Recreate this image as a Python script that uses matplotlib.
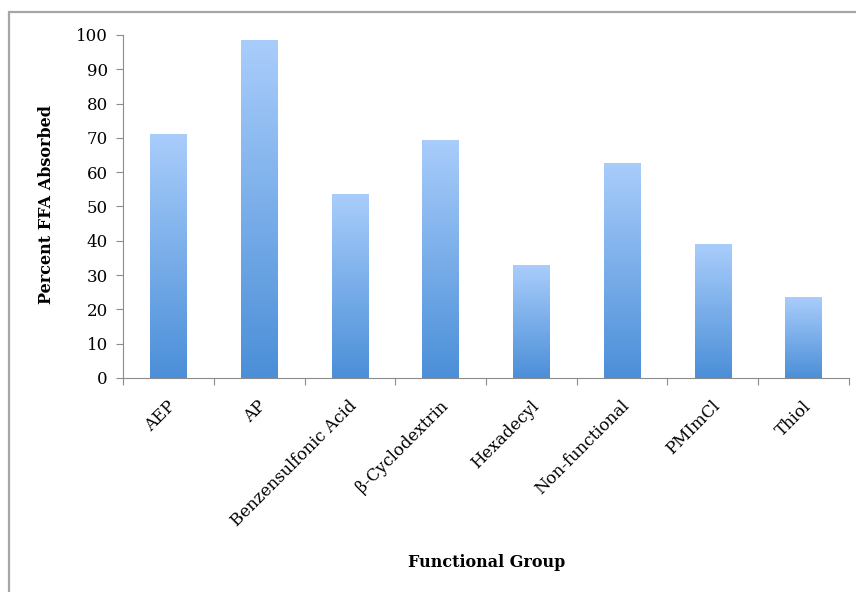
import numpy as np
import matplotlib
matplotlib.use("Agg")
import matplotlib.pyplot as plt
from matplotlib.colors import LinearSegmentedColormap
from matplotlib.patches import Rectangle

groups = ["AEP", "AP", "Benzensulfonic Acid", "\u03b2-Cyclodextrin", "Hexadecyl",
          "Non-functional", "PMImCl", "Thiol"]
absorbed = [71.0, 98.5, 53.5, 69.5, 32.8, 62.7, 39.0, 23.5]
y_ticks = list(range(0, 101, 10))

plt.rcParams["font.family"] = ["DejaVu Serif"]

fig = plt.figure(figsize=(8.56, 5.92), dpi=100)
ax = fig.add_axes([0.1437, 0.3615, 0.8481, 0.5794])

# light top, darker bottom, like the office-style gradient fill
cmap = LinearSegmentedColormap.from_list("barfill", ["#4b8fd8", "#a9cdfb"])
grad = np.linspace(0, 1, 256).reshape(-1, 1)

x = np.arange(len(groups))
bars = ax.bar(x, absorbed, width=0.4, color="none", edgecolor="none", zorder=2)
for rect in bars:
    x0, y0 = rect.get_x(), rect.get_y()
    w, h = rect.get_width(), rect.get_height()
    im = ax.imshow(grad, cmap=cmap, origin="lower", aspect="auto",
                   extent=(x0, x0 + w, y0, y0 + h), zorder=2)
    im.set_clip_path(rect)

ax.set_xlim(-0.5, len(groups) - 0.5)
ax.set_ylim(0, 100)
ax.set_yticks(y_ticks)
ax.tick_params(axis="y", labelsize=12, length=5, color="#8c8c8c", pad=6)

# category boundaries get the tick marks, names sit under the bars
ax.set_xticks(np.arange(len(groups) + 1) - 0.5)
ax.set_xticklabels([])
ax.tick_params(axis="x", length=5, color="#8c8c8c")
for xi, name in zip(x, groups):
    ax.annotate(name, xy=(xi, 0), xycoords=("data", "axes fraction"),
                xytext=(-1, -14), textcoords="offset points",
                rotation=45, ha="right", va="top", rotation_mode="anchor",
                fontsize=12)

for side in ("top", "right"):
    ax.spines[side].set_visible(False)
for side in ("left", "bottom"):
    ax.spines[side].set_color("#8c8c8c")

fig.text(0.054, 0.654, "Percent FFA Absorbed", rotation=90, ha="center", va="center",
         fontsize=11.5, fontweight="bold")
fig.text(0.569, 0.049, "Functional Group", ha="center", va="center",
         fontsize=11.5, fontweight="bold")

# chart frame, cut off at the right and bottom
fig.add_artist(Rectangle((0.0105, -0.1), 1.2, 0.98 + 0.1, transform=fig.transFigure,
                         fill=False, edgecolor="#a6a6a6", linewidth=1.6))

fig.savefig("out.png", dpi=100)
